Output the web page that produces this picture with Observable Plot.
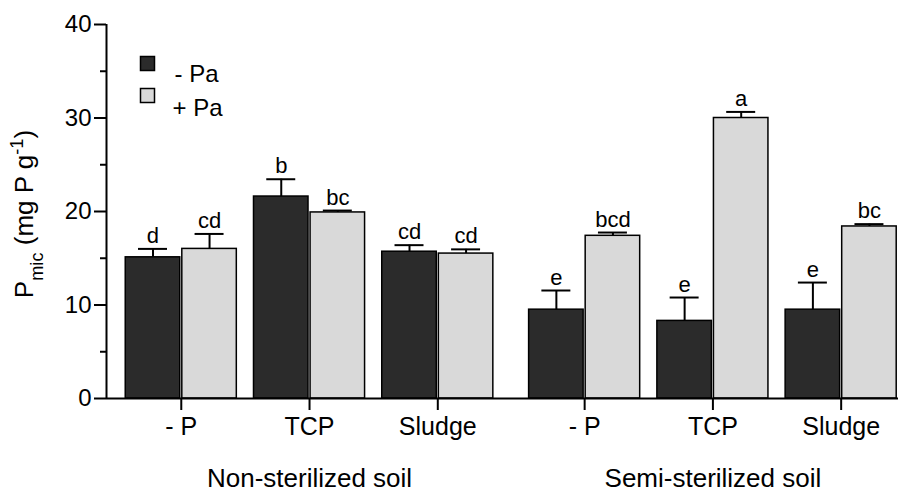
<!DOCTYPE html>
<html>
<head>
<meta charset="utf-8">
<script src="https://cdn.jsdelivr.net/npm/d3@7"></script>
<script src="https://cdn.jsdelivr.net/npm/@observablehq/plot@0.6"></script>
<style>
  html, body { margin: 0; padding: 0; background: #ffffff; }
  #chart { width: 906px; height: 494px; overflow: hidden; }
</style>
</head>
<body>
<div id="chart"></div>
<script>
// ---------- data ----------
const soils = ["Non-sterilized soil", "Semi-sterilized soil"];
const treatments = ["- P", "TCP", "Sludge"];
const seriesNames = ["- Pa", "+ Pa"];
// groups in order: Non-sterilized (-P, TCP, Sludge), Semi-sterilized (-P, TCP, Sludge)
const minusPa = [15.1, 21.6, 15.7, 9.5, 8.3, 9.5];
const minusPaErr = [0.9, 1.85, 0.7, 2.05, 2.5, 2.9];
const minusPaLetters = ["d", "b", "cd", "e", "e", "e"];
const plusPa = [16.0, 19.9, 15.5, 17.4, 30.0, 18.4];
const plusPaErr = [1.6, 0.2, 0.45, 0.35, 0.65, 0.25];
const plusPaLetters = ["cd", "bc", "cd", "bcd", "a", "bc"];
const yTicks = [0, 10, 20, 30, 40];
const yMinorTicks = [5, 15, 25, 35];

// ---------- layout constants (in x-scale units, one unit per treatment group) ----------
const SOIL_GAP = 0.145;
const BAR_W = 0.425;
const PAIR_GAP = 0.016;
const CAP_HALF = 0.113;
const X_MIN = -0.583, X_MAX = 5.592;

const groups = [];
soils.forEach((soil, s) => treatments.forEach((t, j) => {
  const g = s * treatments.length + j;
  groups.push({soil, treatment: t, g, center: g + s * SOIL_GAP});
}));

const bars = [];
groups.forEach((grp, i) => {
  bars.push({series: seriesNames[0], value: minusPa[i], err: minusPaErr[i], letter: minusPaLetters[i],
    x1: grp.center - PAIR_GAP / 2 - BAR_W, x2: grp.center - PAIR_GAP / 2});
  bars.push({series: seriesNames[1], value: plusPa[i], err: plusPaErr[i], letter: plusPaLetters[i],
    x1: grp.center + PAIR_GAP / 2, x2: grp.center + PAIR_GAP / 2 + BAR_W});
});
bars.forEach(b => { b.xc = (b.x1 + b.x2) / 2; b.top = b.value + b.err; });

const colors = {[seriesNames[0]]: "#2b2b2b", [seriesNames[1]]: "#d9d9d9"};
const centers = groups.map(g => g.center);
const labelFor = v => {
  let best = 0;
  centers.forEach((c, i) => { if (Math.abs(c - v) < Math.abs(centers[best] - v)) best = i; });
  return groups[best].treatment;
};
const soilLabels = soils.map((s, k) => ({soil: s, x: groups[k * 3 + 1].center}));

const font = "'Liberation Sans', Arial, Helvetica, sans-serif";

const svg = Plot.plot({
  width: 906,
  height: 494,
  marginLeft: 106,
  marginRight: 8,
  marginTop: 24,
  marginBottom: 96,
  style: {fontFamily: font, color: "black", background: "white", overflow: "visible"},
  x: {domain: [X_MIN, X_MAX], axis: null},
  y: {domain: [0, 40], axis: null},
  marks: [
    Plot.rectY(bars, {x1: "x1", x2: "x2", y: "value", fill: d => colors[d.series], stroke: "black", strokeWidth: 1.5}),
    Plot.ruleX(bars, {x: "xc", y1: "value", y2: "top", stroke: "black", strokeWidth: 2}),
    Plot.ruleY(bars, {x1: d => d.xc - CAP_HALF, x2: d => d.xc + CAP_HALF, y: "top", stroke: "black", strokeWidth: 2}),
    Plot.text(bars, {x: "xc", y: "top", text: "letter", dy: -6, lineAnchor: "bottom", fontSize: 22, fill: "black"}),
    Plot.ruleY([0], {stroke: "black", strokeWidth: 2}),
    Plot.ruleX([X_MIN], {y1: 0, y2: 40, stroke: "black", strokeWidth: 2}),
    Plot.axisY({ticks: yTicks, tickSize: 12, tickPadding: 3, fontSize: 24, strokeWidth: 2, label: null, color: "black"}),
    Plot.axisY({ticks: yMinorTicks, tickSize: 6, tickFormat: () => "", strokeWidth: 2, label: null, color: "black"}),
    Plot.axisX({ticks: centers, tickFormat: labelFor, tickSize: 12, tickPadding: 7, fontSize: 25, strokeWidth: 2, label: null, color: "black"}),
    Plot.text(soilLabels, {x: "x", text: "soil", frameAnchor: "bottom", dy: 88, fontSize: 26, fill: "black"}),
    // legend
    Plot.dot([seriesNames[0]], {frameAnchor: "top-left", dx: 41, dy: 39, symbol: "square", r: 7.9, fill: colors[seriesNames[0]], stroke: "black", strokeWidth: 1.5}),
    Plot.dot([seriesNames[1]], {frameAnchor: "top-left", dx: 41, dy: 71, symbol: "square", r: 7.9, fill: colors[seriesNames[1]], stroke: "black", strokeWidth: 1.5}),
    Plot.text([seriesNames[0]], {text: d => d, frameAnchor: "top-left", dx: 68, dy: 40, textAnchor: "start", fontSize: 24, fill: "black"}),
    Plot.text([seriesNames[1]], {text: d => d, frameAnchor: "top-left", dx: 66, dy: 74, textAnchor: "start", fontSize: 24, fill: "black"})
  ]
});

// y-axis title with subscript / superscript
const yl = d3.select(svg).append("text")
  .attr("transform", "translate(33,214) rotate(-90)")
  .attr("text-anchor", "middle")
  .attr("font-family", font)
  .attr("font-size", 26)
  .attr("fill", "black");
yl.append("tspan").text("P");
yl.append("tspan").attr("baseline-shift", "sub").attr("font-size", "70%").text("mic");
yl.append("tspan").text(" (mg P g");
yl.append("tspan").attr("baseline-shift", "super").attr("font-size", "70%").text("-1");
yl.append("tspan").text(")");

document.getElementById("chart").appendChild(svg);
</script>
</body>
</html>
